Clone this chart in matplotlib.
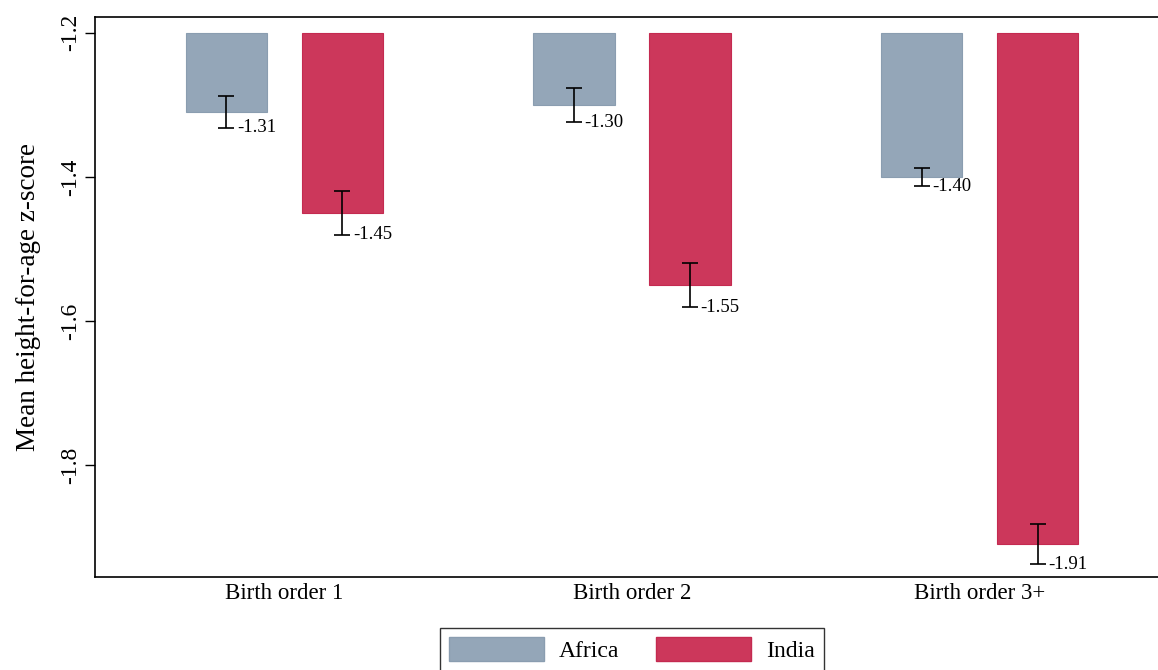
import matplotlib
matplotlib.use("Agg")
import matplotlib.pyplot as plt
import numpy as np
from matplotlib.patches import Patch

# Mean height-for-age z-scores by birth order, with 95% CI half-widths
categories = ["Birth order 1", "Birth order 2", "Birth order 3+"]
africa_mean = [-1.31, -1.30, -1.40]
india_mean = [-1.45, -1.55, -1.91]
africa_ci = [0.022, 0.024, 0.013]
india_ci = [0.030, 0.031, 0.028]
y_ticks = [-1.2, -1.4, -1.6, -1.8]
base = -1.2

africa_color = "#94a6b8"
india_color = "#cc375b"

plt.rcParams["font.family"] = ["Liberation Serif", "DejaVu Serif"]

fig = plt.figure(figsize=(11.58, 6.70), dpi=100)
ax = fig.add_axes([0.082, 0.1388, 0.92, 0.8358])

x = np.arange(len(categories))
width = 0.234
offset = 0.167

series = [
    (africa_mean, africa_ci, africa_color, "#8a9db0", -offset, "Africa"),
    (india_mean, india_ci, india_color, "#c42a50", offset, "India"),
]

for means, cis, color, edge, off, label in series:
    means = np.array(means)
    xs = x + off
    ax.bar(xs, means - base, bottom=base, width=width, color=color,
           edgecolor=edge, linewidth=0.8, zorder=2)
    ax.errorbar(xs, means, yerr=cis, fmt="none", ecolor="black",
                elinewidth=1.2, capsize=6, capthick=1.2, zorder=3)
    for xi, m, c in zip(xs, means, cis):
        ax.annotate(f"{m:.2f}", xy=(xi, m - c), xytext=(7.5, 0),
                    textcoords="offset points", ha="left", va="center",
                    fontsize=13.5, zorder=4)

ax.set_xlim(-0.545, 2.52)
ax.set_ylim(-1.9556, -1.178)
ax.set_xticks(x)
ax.set_xticklabels(categories, fontsize=16.5)
ax.tick_params(axis="x", length=0, pad=4)
ax.set_yticks(y_ticks)
ax.set_yticklabels([f"{t:.1f}" for t in y_ticks], rotation=90,
                   va="center", fontsize=17)
ax.tick_params(axis="y", length=7, width=1, pad=3)
ax.set_ylabel("Mean height-for-age z-score", fontsize=19.5, labelpad=14)

for side in ["left", "bottom", "top"]:
    ax.spines[side].set_linewidth(1.2)
ax.spines["right"].set_visible(False)

handles = [Patch(facecolor=africa_color, edgecolor="#8a9db0", label="Africa"),
           Patch(facecolor=india_color, edgecolor="#c42a50", label="India")]
leg = fig.legend(handles=handles, loc="upper center",
                 bbox_to_anchor=(632 / 1158, 1 - 628 / 670), ncol=2,
                 fontsize=17, frameon=True, fancybox=False,
                 handlelength=4.0, handleheight=1.15, handletextpad=0.64,
                 columnspacing=1.57, borderpad=0.4, edgecolor="black",
                 borderaxespad=0)
leg.get_frame().set_linewidth(1.0)

fig.savefig("out.png", dpi=100)
